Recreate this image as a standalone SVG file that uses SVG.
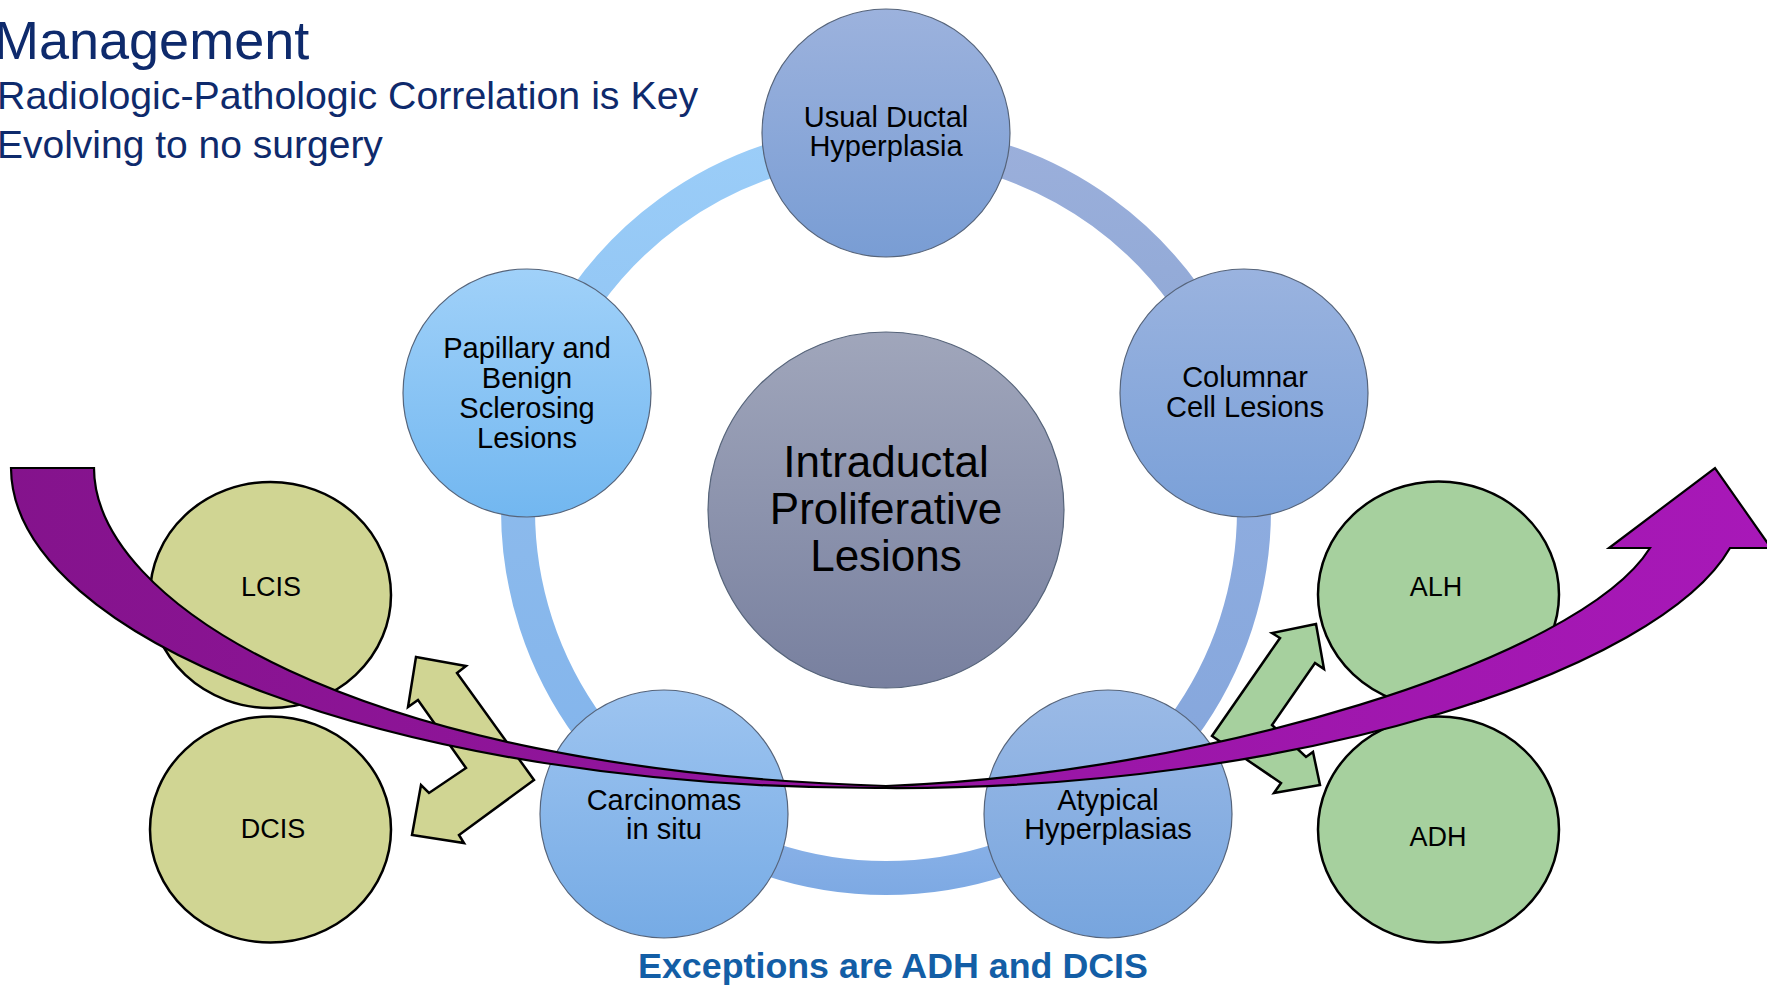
<svg xmlns="http://www.w3.org/2000/svg" width="1767" height="986" viewBox="0 0 1767 986">
<defs>
<style>
.title{font-family:"Liberation Sans",Arial,sans-serif;fill:#0E2A6C}
.lbl{font-family:"Liberation Sans",Arial,sans-serif;fill:#000;text-anchor:middle;font-size:29px}
.big{font-size:44px}
.gl{font-size:27px}
.node{stroke:#56647a;stroke-width:1.2}
.gc{stroke:#000;stroke-width:2.5}
.ring{fill:none;stroke-width:34}
.note{font-family:"Liberation Sans",Arial,sans-serif;font-weight:bold;fill:#135EA6;text-anchor:middle;font-size:35.8px}
</style>
<linearGradient id="gUsual" x1="0" y1="0" x2="0" y2="1"><stop offset="0" stop-color="#9CB2DD"/><stop offset="1" stop-color="#799DD4"/></linearGradient>
<linearGradient id="gCol" x1="0" y1="0" x2="0" y2="1"><stop offset="0" stop-color="#9AB3DF"/><stop offset="1" stop-color="#7AA0D8"/></linearGradient>
<linearGradient id="gPap" x1="0" y1="0" x2="0" y2="1"><stop offset="0" stop-color="#A0D1F9"/><stop offset="1" stop-color="#72B7F0"/></linearGradient>
<linearGradient id="gCar" x1="0" y1="0" x2="0" y2="1"><stop offset="0" stop-color="#9DC4F0"/><stop offset="1" stop-color="#76ABE5"/></linearGradient>
<linearGradient id="gAty" x1="0" y1="0" x2="0" y2="1"><stop offset="0" stop-color="#9BBAE6"/><stop offset="1" stop-color="#77A5DE"/></linearGradient>
<linearGradient id="gCen" x1="0" y1="0" x2="0" y2="1"><stop offset="0" stop-color="#A0A6BB"/><stop offset="1" stop-color="#78809F"/></linearGradient>
<linearGradient id="gTL" gradientUnits="userSpaceOnUse" x1="0" y1="140" x2="0" y2="400"><stop offset="0" stop-color="#9BCDF8"/><stop offset="1" stop-color="#90C4F3"/></linearGradient>
<linearGradient id="gTR" gradientUnits="userSpaceOnUse" x1="0" y1="140" x2="0" y2="400"><stop offset="0" stop-color="#9BAFDB"/><stop offset="1" stop-color="#8DA7D5"/></linearGradient>
<linearGradient id="gR" gradientUnits="userSpaceOnUse" x1="0" y1="396" x2="0" y2="810"><stop offset="0" stop-color="#91AEE0"/><stop offset="1" stop-color="#84A6DC"/></linearGradient>
<linearGradient id="gB" gradientUnits="userSpaceOnUse" x1="0" y1="800" x2="0" y2="896"><stop offset="0" stop-color="#90B6EA"/><stop offset="1" stop-color="#7DA9E3"/></linearGradient>
<linearGradient id="gL" gradientUnits="userSpaceOnUse" x1="0" y1="396" x2="0" y2="810"><stop offset="0" stop-color="#8FBCEC"/><stop offset="1" stop-color="#82B4EC"/></linearGradient>
<linearGradient id="gPur" gradientUnits="userSpaceOnUse" x1="0" y1="0" x2="1767" y2="0"><stop offset="0" stop-color="#84138C"/><stop offset="1" stop-color="#A818B8"/></linearGradient>
</defs>
<rect width="1767" height="986" fill="#fff"/>
<g id="title">
<text class="title" x="-6" y="59" font-size="54">Management</text>
<text class="title" x="-3" y="109" font-size="39.3">Radiologic-Pathologic Correlation is Key</text>
<text class="title" x="-3" y="158" font-size="39">Evolving to no surgery</text>
</g>
<g id="connectors">
<path class="ring" stroke="url(#gTR)" d="M886,142 A368,368 0 0 1 1236,396.3"/>
<path class="ring" stroke="url(#gR)" d="M1236,396.3 A368,368 0 0 1 1102.3,807.7"/>
<path class="ring" stroke="url(#gB)" d="M1102.3,807.7 A368,368 0 0 1 669.7,807.7"/>
<path class="ring" stroke="url(#gL)" d="M669.7,807.7 A368,368 0 0 1 536,396.3"/>
<path class="ring" stroke="url(#gTL)" d="M536,396.3 A368,368 0 0 1 886,142"/>
</g>
<g id="center">
<circle class="node" cx="886" cy="510" r="178" fill="url(#gCen)"/>
<text class="lbl big" x="886" y="477">Intraductal</text>
<text class="lbl big" x="886" y="524">Proliferative</text>
<text class="lbl big" x="886" y="571">Lesions</text>
</g>
<g id="usual">
<circle class="node" cx="886" cy="133" r="124" fill="url(#gUsual)"/>
<text class="lbl" x="886" y="127">Usual Ductal</text>
<text class="lbl" x="886" y="156">Hyperplasia</text>
</g>
<g id="columnar">
<circle class="node" cx="1244" cy="393" r="124" fill="url(#gCol)"/>
<text class="lbl" x="1245" y="387">Columnar</text>
<text class="lbl" x="1245" y="417">Cell Lesions</text>
</g>
<g id="papillary">
<circle class="node" cx="527" cy="393" r="124" fill="url(#gPap)"/>
<text class="lbl" x="527" y="358">Papillary and</text>
<text class="lbl" x="527" y="388">Benign</text>
<text class="lbl" x="527" y="418">Sclerosing</text>
<text class="lbl" x="527" y="448">Lesions</text>
</g>
<g id="carcinomas">
<circle class="node" cx="664" cy="814" r="124" fill="url(#gCar)"/>
<text class="lbl" x="664" y="810">Carcinomas</text>
<text class="lbl" x="664" y="839">in situ</text>
</g>
<g id="atypical">
<circle class="node" cx="1108" cy="814" r="124" fill="url(#gAty)"/>
<text class="lbl" x="1108" y="810">Atypical</text>
<text class="lbl" x="1108" y="839">Hyperplasias</text>
</g>
<g id="lcis">
<ellipse class="gc" cx="270.5" cy="595" rx="120.5" ry="113" fill="#D0D593"/>
<text class="lbl gl" x="271" y="596">LCIS</text>
</g>
<g id="dcis">
<ellipse class="gc" cx="270.5" cy="829.5" rx="120.5" ry="113" fill="#D0D593"/>
<text class="lbl gl" x="273" y="838">DCIS</text>
</g>
<g id="alh">
<ellipse class="gc" cx="1438.5" cy="594.5" rx="120.5" ry="113" fill="#A6D09E"/>
<text class="lbl gl" x="1436" y="596">ALH</text>
</g>
<g id="adh">
<ellipse class="gc" cx="1438.5" cy="829.5" rx="120.5" ry="113" fill="#A6D09E"/>
<text class="lbl gl" x="1438" y="846">ADH</text>
</g>
<g id="arrow-left">
<polygon fill="#D0D593" stroke="#000" stroke-width="2.5" stroke-linejoin="miter" points="416,657 466,666 457,673 534,780 459,835 464,843 412,835 421,785 429,793 466,768 418,700 408,707"/>
</g>
<g id="arrow-right">
<polygon fill="#A6D09E" stroke="#000" stroke-width="2.5" stroke-linejoin="miter" points="1316,624 1272,633 1280,638 1212,736 1281,783 1274,793 1320,785 1313,752 1306,757 1272,725 1315,663 1324,669"/>
</g>
<g id="arrow-main">
<path fill="url(#gPur)" stroke="#000" stroke-width="2.2" stroke-linejoin="miter" d="M11,468 L94,468 C94,600 350,770 886,786 C1200,775 1580,660 1650,548 L1609,548 L1715,468 L1771,548 L1730,548 C1660,670 1300,790 886,788 C400,790 12,640 11,468 Z"/>
</g>
<g id="note">
<text class="note" x="893" y="978">Exceptions are ADH and DCIS</text>
</g>
</svg>
